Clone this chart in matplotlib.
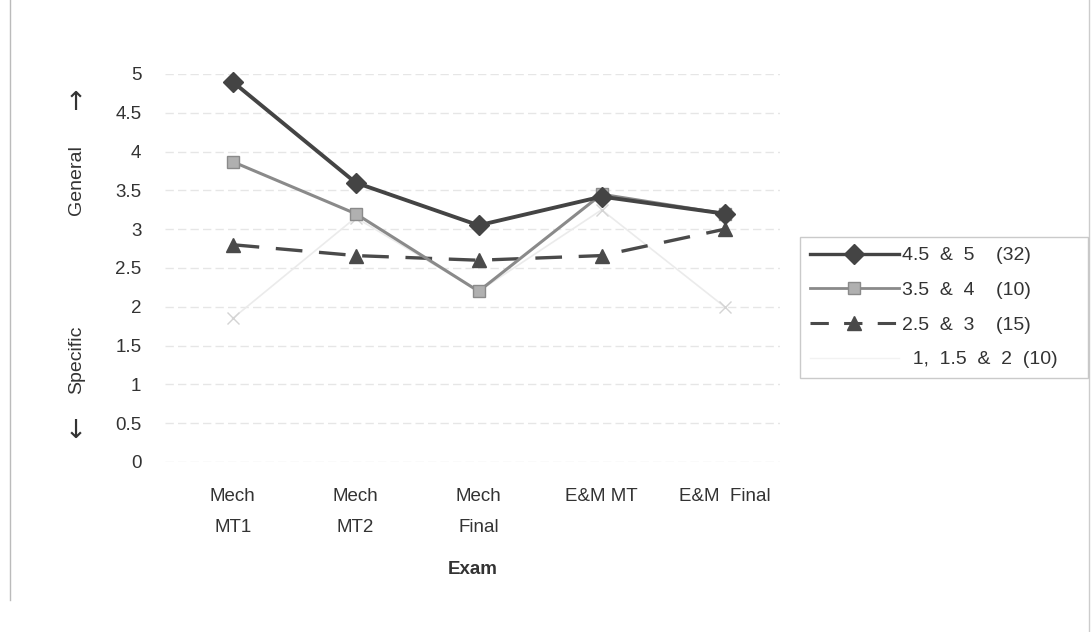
import matplotlib
matplotlib.use("Agg")
import matplotlib.pyplot as plt
from matplotlib.lines import Line2D

plt.rcParams["font.family"] = ["Liberation Sans", "DejaVu Sans"]

exams = ["Mech\nMT1", "Mech\nMT2", "Mech\nFinal", "E&M MT", "E&M  Final"]
y_ticks = [0, 0.5, 1, 1.5, 2, 2.5, 3, 3.5, 4, 4.5, 5]
y_tick_labels = ["0", "0.5", "1", "1.5", "2", "2.5", "3", "3.5", "4", "4.5", "5"]

labels = ["4.5  &  5    (32)", "3.5  &  4    (10)", "2.5  &  3    (15)", "  1,  1.5  &  2  (10)"]
s_high = [4.9, 3.6, 3.05, 3.42, 3.2]
s_mid = [3.87, 3.2, 2.2, 3.45, 3.2]
s_low = [2.8, 2.66, 2.6, 2.66, 3.0]
s_lowest = [1.85, 3.15, 2.2, 3.25, 2.0]

W, H = 1092, 632
fig = plt.figure(figsize=(W / 100, H / 100), dpi=100)
ax = fig.add_axes([165 / W, 1 - 462 / H, 615 / W, 388 / H])

x = list(range(len(exams)))
ax.plot(x, s_lowest, color="#ebebeb", lw=1.2, marker="x", ms=8,
        mec="#d4d4d4", clip_on=False, zorder=2)
ax.plot(x, s_low, color="#4a4a4a", lw=2.4, dashes=(8, 5), marker="^", ms=10,
        clip_on=False, zorder=3)
ax.plot(x, s_mid, color="#8a8a8a", lw=2.2, marker="s", ms=9, mfc="#b0b0b0",
        mec="#8a8a8a", clip_on=False, zorder=4)
ax.plot(x, s_high, color="#444444", lw=2.8, marker="D", ms=10.5,
        clip_on=False, zorder=5)

ax.set_xlim(-0.55, 4.45)
ax.set_ylim(0, 5)
ax.set_yticks(y_ticks)
ax.set_yticklabels(y_tick_labels)
ax.set_xticks(x)
ax.set_xticklabels(exams, linespacing=2.05)
ax.tick_params(length=0, labelsize=13.5, labelcolor="#333333")
ax.tick_params(axis="y", pad=17)
ax.tick_params(axis="x", pad=19)
ax.grid(axis="y", color="#e6e6e6", lw=1, ls=(0, (6, 3)))
for sp in ax.spines.values():
    sp.set_visible(False)

ax.set_xlabel("Exam", fontsize=13.5, fontweight="bold", color="#333333", labelpad=18)

# y axis title: General (up) / Specific (down)
fig.text(77 / W, 1 - 180 / H, "General", rotation=90, fontsize=14,
         color="#333333", ha="center", va="center")
fig.text(76 / W, 1 - 103 / H, "\u2191", fontsize=19, family="DejaVu Sans",
         color="#333333", ha="center", va="center")
fig.text(77 / W, 1 - 360 / H, "Specific", rotation=90, fontsize=14,
         color="#333333", ha="center", va="center")
fig.text(76 / W, 1 - 431 / H, "\u2193", fontsize=19, family="DejaVu Sans",
         color="#333333", ha="center", va="center")

handles = [
    Line2D([], [], color="#444444", lw=2.4, marker="D", ms=10),
    Line2D([], [], color="#8a8a8a", lw=2, marker="s", ms=8, mfc="#b0b0b0", mec="#8a8a8a"),
    Line2D([], [], color="#4a4a4a", lw=2.2, dashes=(6, 5), marker="^", ms=10),
    Line2D([], [], color="#f2f2f2", lw=1),
]
leg = fig.legend(handles, labels, loc="upper left",
                 bbox_to_anchor=(800 / W, 1 - 375 / H, 288 / W, 138 / H),
                 mode="expand", fontsize=14, handlelength=4.6, handletextpad=0.15,
                 labelspacing=0.88, borderpad=0.5, borderaxespad=0,
                 fancybox=False, frameon=True)
leg.get_frame().set_edgecolor("#bdbdbd")
leg.get_frame().set_linewidth(1)
for t in leg.get_texts():
    t.set_color("#333333")

# scanned page border
fig.add_artist(Line2D([0.009, 0.009], [0.05, 1.0], color="#bbbbbb", lw=1))
fig.add_artist(Line2D([0.997, 0.997], [0.0, 1.0], color="#cccccc", lw=1))

fig.savefig("out.png", dpi=100, facecolor="white")
